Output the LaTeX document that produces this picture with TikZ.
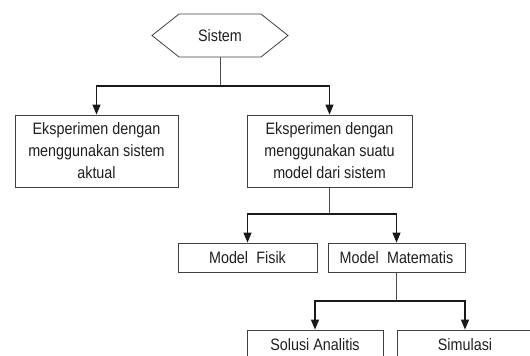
\documentclass[tikz,border=0pt]{standalone}
\usepackage{fontspec}
\setmainfont{Liberation Sans}[FakeStretch=0.87]
\usetikzlibrary{arrows.meta,shapes.symbols}
\begin{document}
\begin{tikzpicture}[x=1pt,y=-1pt,
  txt/.style={font=\fontsize{16.5}{22}\selectfont, text=black!88, align=center, inner sep=0pt},
  box/.style={txt, draw=black!75, line width=0.8pt, rectangle},
  stem/.style={draw=black!70, line width=0.9pt},
  arr/.style={draw=black!90, line width=1.15pt, -{Triangle[length=10pt,width=8pt]}}]
\useasboundingbox (0,0) rectangle (530,356);
\clip (0,0) rectangle (530,356);
\node[txt, draw=black!75, line width=0.8pt, signal, signal to=west and east, signal pointer angle=77,
      minimum width=136, minimum height=43] (sys) at (220,35.5) {Sistem};
\node[box, minimum width=163, minimum height=72] (b1) at (96.5,151) {Eksperimen dengan\\menggunakan sistem\\aktual};
\node[box, minimum width=165, minimum height=72] (b2) at (329.5,151) {Eksperimen dengan\\menggunakan suatu\\model dari sistem};
\node[box, minimum width=139, minimum height=29] (mf) at (247.5,257.5) {Model\hspace{0.5em}Fisik};
\node[box, minimum width=137, minimum height=29] (mm) at (396.5,257.5) {Model\hspace{0.5em}Matematis};
\node[box, minimum width=136, minimum height=29] (sa) at (315,344.5) {Solusi Analitis};
\node[box, minimum width=136, minimum height=29] (si) at (465,344.5) {Simulasi};
\coordinate (j1) at (220,86);
\coordinate (j2) at (329.5,214);
\coordinate (j3) at (396.5,301);
\draw[stem] (sys.south) -- (j1);
\draw[arr] (j1) -| (b1.north);
\draw[arr] (j1) -| (b2.north);
\draw[stem] (b2.south) -- (j2);
\draw[arr] (j2) -| (mf.north);
\draw[arr] (j2) -| (mm.north);
\draw[stem] (mm.south) -- (j3);
\draw[arr] (j3) -| (sa.north);
\draw[arr] (j3) -| (si.north);
\end{tikzpicture}
\end{document}
